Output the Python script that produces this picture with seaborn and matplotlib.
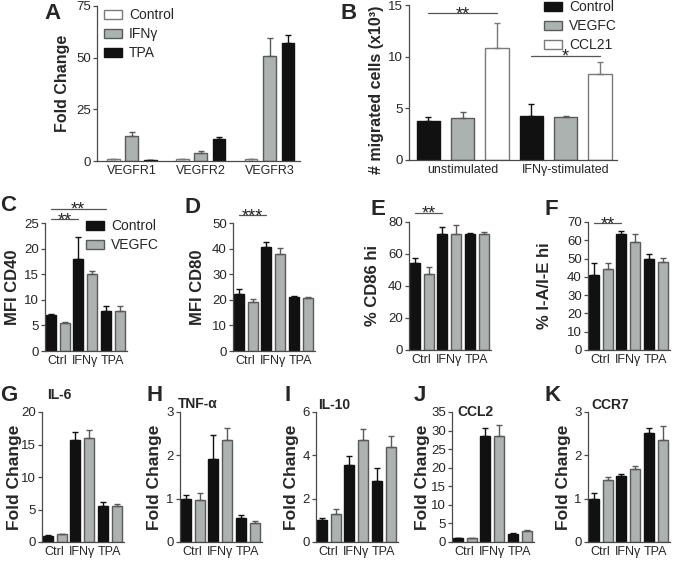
import numpy as np
import pandas as pd
import seaborn as sns
import matplotlib.pyplot as plt
from matplotlib.patches import Patch

# ---------------- DATA ----------------
# A: receptor expression
A_genes = ["VEGFR1", "VEGFR2", "VEGFR3"]
A_trt = ["Control", "IFNγ", "TPA"]
A_control = [1.0, 1.0, 1.0]
A_control_err = [0.0, 0.0, 0.0]
A_ifng = [12.3, 4.1, 50.8]
A_ifng_err = [1.9, 0.6, 8.6]
A_tpa = [0.4, 10.5, 56.9]
A_tpa_err = [0.1, 1.1, 4.1]

# B: migration
B_groups = ["unstimulated", "IFNγ-stimulated"]
B_trt = ["Control", "VEGFC", "CCL21"]
B_control = [3.8, 4.3]
B_control_err = [0.35, 1.1]
B_vegfc = [4.1, 4.2]
B_vegfc_err = [0.5, 0.05]
B_ccl21 = [10.8, 8.3]
B_ccl21_err = [2.45, 1.15]

# C-K: Control vs VEGFC for each stimulus
stim = ["Ctrl", "IFNγ", "TPA"]
trt2 = ["Control", "VEGFC"]

cd40_control = [7.0, 17.9, 7.8]
cd40_control_err = [0.2, 4.35, 0.9]
cd40_vegfc = [5.5, 15.0, 7.8]
cd40_vegfc_err = [0.15, 0.55, 1.0]

cd80_control = [22.2, 40.6, 21.0]
cd80_control_err = [2.0, 2.0, 0.5]
cd80_vegfc = [19.3, 37.9, 20.6]
cd80_vegfc_err = [0.9, 2.3, 0.3]

cd86_control = [54.5, 72.8, 72.3]
cd86_control_err = [3.3, 4.1, 1.1]
cd86_vegfc = [47.8, 72.8, 72.8]
cd86_vegfc_err = [4.2, 5.6, 1.0]

iaie_control = [40.8, 63.3, 49.5]
iaie_control_err = [6.8, 1.6, 2.8]
iaie_vegfc = [44.5, 59.2, 48.2]
iaie_vegfc_err = [3.2, 4.2, 2.2]

il6_control = [1.0, 15.7, 5.6]
il6_control_err = [0.05, 1.2, 0.5]
il6_vegfc = [1.2, 16.0, 5.5]
il6_vegfc_err = [0.1, 1.3, 0.4]

tnf_control = [1.0, 1.92, 0.55]
tnf_control_err = [0.09, 0.56, 0.07]
tnf_vegfc = [0.98, 2.35, 0.44]
tnf_vegfc_err = [0.14, 0.27, 0.04]

il10_control = [1.0, 3.55, 2.82]
il10_control_err = [0.1, 0.42, 0.61]
il10_vegfc = [1.3, 4.72, 4.4]
il10_vegfc_err = [0.22, 0.5, 0.5]

ccl2_control = [1.0, 28.5, 2.15]
ccl2_control_err = [0.1, 2.2, 0.25]
ccl2_vegfc = [1.1, 28.6, 2.9]
ccl2_vegfc_err = [0.1, 2.8, 0.3]

ccr7_control = [1.0, 1.52, 2.52]
ccr7_control_err = [0.12, 0.06, 0.1]
ccr7_vegfc = [1.42, 1.68, 2.36]
ccr7_vegfc_err = [0.08, 0.07, 0.31]

# ---------------- STYLE ----------------
sns.set_style("ticks")
plt.rcParams["font.family"] = ["Liberation Sans", "DejaVu Sans"]

BLACK = "#111111"
GRAY = "#aab3b1"
WHITE = "#ffffff"
SPINE = "#4a4a4a"

W, H = 674, 563
fig = plt.figure(figsize=(W / 100, H / 100), dpi=100)


def add_ax(left, right, top, bottom):
    return fig.add_axes([left / W, 1 - bottom / H, (right - left) / W, (bottom - top) / H])


def bar_panel(ax, cats, hues, vals, errs, fills, edges, width, gap):
    rows = []
    for h, v in zip(hues, vals):
        for c, y in zip(cats, v):
            rows.append({"cat": c, "trt": h, "val": y})
    df = pd.DataFrame(rows)
    sns.barplot(data=df, x="cat", y="val", hue="trt", order=cats, hue_order=hues,
                palette=dict(zip(hues, fills)), width=width, gap=gap,
                errorbar=None, legend=False, linewidth=1, ax=ax)
    for cont, e, ec in zip(ax.containers, errs, edges):
        xs, ys, es = [], [], []
        for bar in cont:
            bar.set_edgecolor(ec)
            cx = bar.get_x() + bar.get_width() / 2
            xs.append(cx)
            ys.append(bar.get_height())
            es.append(e[int(round(cx))])
        es = np.array(es)
        ax.errorbar(xs, ys, yerr=[np.zeros_like(es), es], fmt="none", ecolor=ec,
                    elinewidth=1, capsize=2.5, capthick=1, zorder=1)
    sns.despine(ax=ax)
    for s in ["left", "bottom"]:
        ax.spines[s].set_color(SPINE)
        ax.spines[s].set_linewidth(0.9)
    ax.tick_params(axis="y", length=3, width=0.9, color=SPINE, pad=1.5, labelsize=9.5)
    ax.tick_params(axis="x", length=0, pad=3, labelsize=9)
    ax.set_xlabel("")


def bar_x(ax, hue_i, cat_i):
    bar = ax.containers[hue_i][cat_i]
    return bar.get_x() + bar.get_width() / 2


def sig(ax, p1, p2, y, text):
    x1, x2 = bar_x(ax, *p1), bar_x(ax, *p2)
    ax.plot([x1, x2], [y, y], color="#555555", lw=0.9, clip_on=False)
    ax.annotate(text, xy=((x1 + x2) / 2, y), xytext=(0, -4.5), textcoords="offset points",
                ha="center", va="baseline", fontsize=13, annotation_clip=False)


def ylab(ax, text, dist, size, yc=0.5):
    # dist: pixels from the spine to the centre of the label
    ax.set_ylabel(text, fontsize=size, fontweight="bold")
    w = ax.get_position().width * W
    right_edge = dist - 0.5 * size * 100 / 72
    ax.yaxis.set_label_coords(-right_edge / w, yc)


def letter(x, y, t):
    fig.text(x / W, 1 - y / H, t, fontsize=16, fontweight="bold", ha="left", va="top")


def legend(ax, labels, fills, edges, anchor):
    ax.legend(handles=[Patch(facecolor=f, edgecolor=e) for f, e in zip(fills, edges)],
              labels=labels, loc="upper left", bbox_to_anchor=anchor, frameon=False,
              fontsize=10, handlelength=1.3, handleheight=0.6, handletextpad=0.5,
              labelspacing=0.35, borderpad=0, borderaxespad=0)


# ---------------- A ----------------
axA = add_ax(97, 300, 6, 161)
bar_panel(axA, A_genes, A_trt, [A_control, A_ifng, A_tpa],
          [A_control_err, A_ifng_err, A_tpa_err],
          [WHITE, GRAY, BLACK], ["#7a7a7a", "#5a5a5a", BLACK], 0.8, 0.31)
axA.set_xlim(-0.506, 2.443)
axA.set_ylim(0, 75)
axA.set_yticks([0, 25, 50, 75])
ylab(axA, "Fold Change", 35, 11.5)
legend(axA, A_trt, [WHITE, GRAY, BLACK], ["#7a7a7a", "#5a5a5a", BLACK], (0.035, 0.985))
letter(44, 3, "A")

# ---------------- B ----------------
axB = add_ax(409, 617, 5, 160)
bar_panel(axB, B_groups, B_trt, [B_control, B_vegfc, B_ccl21],
          [B_control_err, B_vegfc_err, B_ccl21_err],
          [BLACK, GRAY, WHITE], [BLACK, "#5a5a5a", "#7a7a7a"], 1.0, 0.32)
axB.set_xlim(-0.52, 1.50)
axB.set_ylim(0, 15)
axB.set_yticks([0, 5, 10, 15])
ylab(axB, "# migrated cells (x10³)", 33, 11.5, yc=0.45)
legend(axB, B_trt, [BLACK, GRAY, WHITE], [BLACK, "#5a5a5a", "#7a7a7a"], (0.65, 1.03))
sig(axB, (0, 0), (2, 0), 14.2, "**")
sig(axB, (0, 1), (2, 1), 10.1, "*")
letter(341, 3, "B")

# ---------------- C-K ----------------
panels = [
    # letter, left px, top px, bottom px, ylabel, control, ctrl err, vegfc, vegfc err, ymax, step
    ("C", 45, 223, 351, "MFI CD40", cd40_control, cd40_control_err, cd40_vegfc, cd40_vegfc_err, 25, 5),
    ("D", 233, 223, 351, "MFI CD80", cd80_control, cd80_control_err, cd80_vegfc, cd80_vegfc_err, 50, 10),
    ("E", 409, 222, 350, "% CD86 hi", cd86_control, cd86_control_err, cd86_vegfc, cd86_vegfc_err, 80, 20),
    ("F", 588, 222, 350, "% I-A/I-E hi", iaie_control, iaie_control_err, iaie_vegfc, iaie_vegfc_err, 70, 10),
    ("G", 42, 412, 542, "Fold Change", il6_control, il6_control_err, il6_vegfc, il6_vegfc_err, 20, 5),
    ("H", 180, 412, 542, "Fold Change", tnf_control, tnf_control_err, tnf_vegfc, tnf_vegfc_err, 3, 1),
    ("I", 316, 412, 542, "Fold Change", il10_control, il10_control_err, il10_vegfc, il10_vegfc_err, 6, 2),
    ("J", 452, 412, 542, "Fold Change", ccl2_control, ccl2_control_err, ccl2_vegfc, ccl2_vegfc_err, 35, 5),
    ("K", 588, 412, 542, "Fold Change", ccr7_control, ccr7_control_err, ccr7_vegfc, ccr7_vegfc_err, 3, 1),
]
ylab_dist = {"C": 33, "D": 36, "E": 37, "F": 44, "G": 29, "H": 27, "I": 26, "J": 31, "K": 26}
ylab_size = {"C": 12, "D": 12, "E": 12, "F": 12}
letter_pos = {"C": (0, 195), "D": (185, 197), "E": (370, 199), "F": (545, 199),
              "G": (0, 385), "H": (146, 385), "I": (284, 385), "J": (414, 385), "K": (545, 385)}
titles = {"G": ("IL-6", 5, 399), "H": ("TNF-α", -2, 408), "I": ("IL-10", 2, 409),
          "J": ("CCL2", 5, 416), "K": ("CCR7", 3, 409)}

axes = {}
for (lt, left, top, bottom, label, c, ce, v, ve, ymax, step) in panels:
    ax = add_ax(left, left + 82, top, bottom)
    bar_panel(ax, stim, trt2, [c, v], [ce, ve], [BLACK, GRAY], [BLACK, "#5a5a5a"], 1.0, 0.27)
    ax.set_xlim(-0.46, 2.52)
    ax.set_ylim(0, ymax)
    ax.set_yticks(np.arange(0, ymax + step / 2, step))
    ylab(ax, label, ylab_dist[lt], ylab_size.get(lt, 12.5))
    letter(*letter_pos[lt], lt)
    if lt in titles:
        t, dx, yb = titles[lt]
        fig.text((left + dx) / W, 1 - yb / H, t, fontsize=10, fontweight="bold",
                 ha="left", va="baseline")
    axes[lt] = ax

legend(axes["C"], trt2, [BLACK, GRAY], [BLACK, "#5a5a5a"], (0.5, 1.03))
sig(axes["C"], (0, 0), (0, 1), 25.8, "**")
sig(axes["C"], (0, 0), (0, 2), 27.8, "**")
sig(axes["D"], (0, 0), (0, 1), 53.0, "***")
sig(axes["E"], (0, 0), (0, 1), 85.8, "**")
sig(axes["F"], (0, 0), (0, 1), 69.5, "**")

fig.savefig("out.png", dpi=100)
